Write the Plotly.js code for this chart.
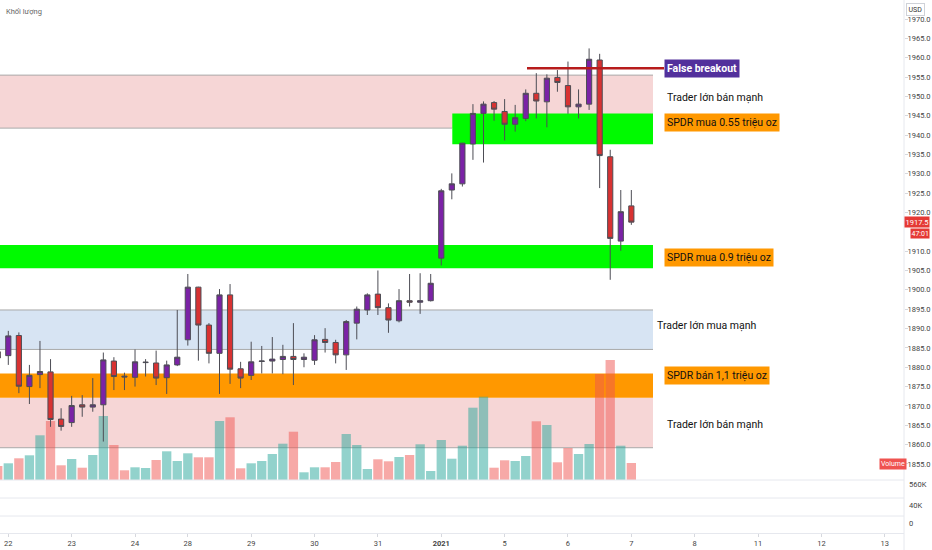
<!DOCTYPE html>
<html><head><meta charset="utf-8">
<script src="https://cdn.plot.ly/plotly-3.0.1.min.js"></script>
<style>html,body{margin:0;padding:0;background:#fff}#chart{width:932px;height:550px}</style>
</head><body><div id="chart"></div>
<script>
// ---- data (4h candles, index 0 = 22 Dec 00:00) ----
const candleIdx = [-1,0,1,2,3,4,5,6,7,8,9,10,11,12,13,14,15,16,17,18,19,20,21,22,23,24,25,26,27,28,29,30,31,32,33,34,35,36,37,38,39,40,41,42,43,44,45,46,47,48,49,50,51,52,53,54,55,56,57,58,59];
const openP  = [1884.0,1883.0,1888.2,1875.0,1878.1,1878.8,1866.6,1865.7,1870.3,1869.7,1870.3,1881.6,1877.7,1877.4,1881.2,1881.1,1877.3,1880.6,1887.1,1900.7,1890.9,1883.6,1898.7,1879.6,1877.9,1881.5,1881.6,1882.0,1882.8,1882.0,1881.8,1887.2,1886.4,1883.2,1891.4,1894.8,1898.9,1895.4,1892.0,1897.2,1896.8,1897.2,1908.2,1925.8,1927.4,1937.7,1945.6,1948.4,1946.1,1942.8,1944.3,1950.8,1948.6,1954.9,1952.8,1947.3,1948.0,1959.4,1934.4,1912.6,1921.7];
const highP  = [1885.5,1889.4,1889.0,1880.6,1886.8,1882.1,1869.4,1872.6,1872.8,1877.2,1883.8,1882.6,1878.6,1884.6,1882.1,1884.3,1881.7,1894.8,1904.1,1900.8,1891.4,1900.2,1901.5,1881.4,1886.6,1885.5,1887.8,1885.8,1891.4,1883.6,1888.3,1890.1,1887.1,1892.2,1895.7,1899.1,1905.0,1896.5,1900.2,1904.1,1904.3,1904.1,1926.1,1930.1,1938.0,1948.0,1948.7,1948.8,1949.3,1947.8,1951.8,1956.0,1955.7,1956.8,1959.0,1951.8,1962.4,1961.0,1936.2,1925.8,1925.8];
const lowP   = [1881.0,1880.6,1873.3,1870.5,1874.6,1864.6,1863.6,1864.6,1867.2,1868.5,1860.8,1874.1,1874.1,1875.0,1877.6,1875.4,1873.1,1880.3,1885.6,1881.7,1881.0,1873.1,1875.7,1874.6,1876.7,1878.4,1878.4,1878.2,1875.4,1880.0,1880.6,1883.8,1881.0,1879.3,1887.2,1893.5,1893.5,1888.9,1891.6,1895.7,1893.8,1897.0,1906.3,1923.4,1926.7,1933.6,1932.9,1943.7,1938.6,1940.9,1943.6,1944.3,1942.0,1951.2,1945.5,1944.3,1946.5,1926.3,1902.6,1910.1,1916.8];
const closeP = [1882.4,1888.1,1875.1,1877.9,1878.9,1866.5,1864.7,1870.1,1869.7,1870.3,1881.9,1877.6,1877.5,1881.4,1881.3,1877.2,1880.6,1882.6,1900.7,1890.9,1883.6,1898.7,1879.5,1877.2,1881.4,1881.6,1882.1,1882.8,1882.0,1882.6,1887.1,1886.4,1883.2,1891.8,1895.0,1898.7,1895.4,1892.2,1897.2,1896.8,1897.2,1901.7,1925.6,1927.4,1937.9,1945.6,1948.0,1946.7,1942.8,1944.5,1950.8,1948.8,1954.7,1953.6,1947.3,1948.0,1959.6,1934.7,1913.3,1920.2,1917.5];
const volume = [14,16.7,21.7,24.7,44.7,59,14.7,21,12.3,25,64,35,9.7,12.7,12,20,28.7,19,26.7,22.7,22.7,59,62.7,11.7,16.7,19,26,36.3,48.3,7.7,12.7,12.7,18,46,35,11,20.7,18.7,23,25,35.7,9,40,21.3,34.3,72.3,83.3,12.3,19.7,19,24,58.7,55,17.7,32,26,36,106,120,34.3,17];
const tickIdx  = [0,6,12,17,23,29,35,41,47,53,59,65,71,77,83];
const tickText = ['22','23','24','28','29','30','31','<b>2021</b>','5','6','7','8','11','12','13'];
// price-scale ticks shown (1915.0 is hidden behind the last-price labels)
const priceTicks = [1855,1860,1865,1870,1875,1880,1885,1890,1895,1900,1905,1910,1920,1925,1930,1935,1940,1945,1950,1955,1960,1965,1970];

// zones (price bounds)
const zoneSellTop   = [1941.8, 1955.5];
const zoneBuy055    = [1937.6, 1945.6];
const zoneBuy09     = [1905.6, 1911.6];
const zoneBuyBig    = [1884.6, 1894.8];
const zoneSell11    = [1872.1, 1878.4];
const zoneSellLow   = [1859.2, 1872.1];
const falseBreakout = 1957.3;

// ---- layout helpers ----
const W = 904, H = 533;
const px = x => x / W;
const py = y => 1 - y / H;
const kx = x => (x - 8.3) / 10.56;
const zoneEnd = kx(653);

const volColors = closeP.map((c, i) => c >= openP[i] ? 'rgba(38,166,154,0.5)' : 'rgba(239,83,80,0.5)');

const traces = [
  {type:'bar', x:candleIdx, y:volume, width:0.88, marker:{color:volColors, line:{width:0}},
   xaxis:'x', yaxis:'y', hoverinfo:'skip'},
  {type:'candlestick', x:candleIdx, open:openP, high:highP, low:lowP, close:closeP,
   xaxis:'x', yaxis:'y2', whiskerwidth:0,
   increasing:{fillcolor:'#7b22a6', line:{color:'#4d4d55', width:1}},
   decreasing:{fillcolor:'#d83232', line:{color:'#4d4d55', width:1}},
   hoverinfo:'skip'}
];

function rect(x0, x1, b, fill) {
  return {type:'rect', xref:'x', yref:'y2', x0:x0, x1:x1, y0:b[0], y1:b[1], fillcolor:fill, line:{width:0}, layer:'below'};
}
function hline(x0, x1, yv, color, w) {
  return {type:'line', xref:'x', yref:'y2', x0:x0, x1:x1, y0:yv, y1:yv, line:{color:color, width:w}, layer:'below'};
}
const gray = '#a9a9a9';
const shapes = [
  rect(-3, zoneEnd, zoneSellTop, 'rgb(246,214,214)'),
  hline(-3, zoneEnd, zoneSellTop[1], gray, 1),
  hline(-3, kx(452.3), zoneSellTop[0], gray, 1),
  rect(kx(452.3), zoneEnd, zoneBuy055, 'rgb(0,250,0)'),
  rect(-3, zoneEnd, zoneBuy09, 'rgb(0,250,0)'),
  rect(-3, zoneEnd, zoneBuyBig, 'rgb(215,228,243)'),
  hline(-3, zoneEnd, zoneBuyBig[0], gray, 1),
  hline(-3, zoneEnd, zoneBuyBig[1], gray, 1),
  rect(-3, zoneEnd, zoneSellLow, 'rgb(246,214,214)'),
  hline(-3, zoneEnd, zoneSellLow[0], gray, 1),
  rect(-3, zoneEnd, zoneSell11, '#ff9800'),
  {type:'line', xref:'x', yref:'y2', x0:kx(527), x1:kx(664), y0:falseBreakout, y1:falseBreakout, line:{color:'#b71c1c', width:2.5}},
  // pane separators / axis frame
  {type:'line', xref:'paper', yref:'paper', x0:0, x1:1, y0:py(480), y1:py(480), line:{color:'#e6e8ee', width:1}},
  {type:'line', xref:'paper', yref:'paper', x0:0, x1:1, y0:py(498), y1:py(498), line:{color:'#e6e8ee', width:1}},
  {type:'line', xref:'paper', yref:'paper', x0:0, x1:1, y0:py(516), y1:py(516), line:{color:'#e6e8ee', width:1}},
  {type:'line', xref:'paper', yref:'paper', x0:1, x1:1, y0:py(550), y1:1, line:{color:'#e6e8ee', width:1}}
];

const lf = 'Roboto, Liberation Sans, sans-serif';
function lab(text, x, y, opts) {
  return Object.assign({xref:'paper', yref:'paper', x:px(x), y:py(y), text:text, showarrow:false,
    xanchor:'left', yanchor:'middle', font:{family:lf, size:10.5, color:'#111'}}, opts || {});
}
const annotations = [
  lab('Khối lượng', 4, 11, {font:{family:lf, size:7.5, color:'#666'}}),
  lab('<b>False breakout</b>', 664, 68.5, {bgcolor:'#52309c', borderpad:2, font:{family:lf, size:10.5, color:'#fff'}}),
  lab('Trader lớn bán mạnh', 665, 98),
  lab('SPDR mua 0.55 triệu oz', 664, 122, {bgcolor:'#ff9800', borderpad:2}),
  lab('SPDR mua 0.9 triệu oz', 664, 257, {bgcolor:'#ff9800', borderpad:2}),
  lab('Trader lớn mua mạnh', 655, 325),
  lab('SPDR bán 1,1 triệu oz', 664, 375.5, {bgcolor:'#ff9800', borderpad:2}),
  lab('Trader lớn bán mạnh', 665, 424),
  lab('USD', 906, 10, {bgcolor:'#fff', bordercolor:'#cfd2d8', borderwidth:1, borderpad:1.5, font:{family:lf, size:7, color:'#333'}}),
  lab('1917.5', 904, 221.5, {bgcolor:'#e53935', borderpad:0.5, font:{family:lf, size:7.5, color:'#fff'}}),
  lab('47:01', 910, 233.5, {bgcolor:'#e53935', borderpad:0.5, font:{family:lf, size:7, color:'#fff'}}),
  lab('Volume', 879, 463.5, {bgcolor:'#ef5350', borderpad:1, font:{family:lf, size:7, color:'#fff'}}),
  lab('560K', 907, 484, {font:{family:lf, size:7.5, color:'#444'}}),
  lab('40K', 907, 505, {font:{family:lf, size:7.5, color:'#444'}}),
  lab('0', 907, 523, {font:{family:lf, size:7.5, color:'#444'}})
];

const layout = {
  width:932, height:550,
  margin:{l:0, r:28, t:0, b:17, pad:0},
  paper_bgcolor:'#fff', plot_bgcolor:'#fff',
  showlegend:false, hovermode:false,
  xaxis:{range:[kx(0), kx(904)], anchor:'free', position:0, showgrid:false, zeroline:false,
         rangeslider:{visible:false}, tickmode:'array', tickvals:tickIdx, ticktext:tickText,
         ticks:'outside', ticklen:3, tickcolor:'#d6d8de', showline:true, linecolor:'#e6e8ee',
         tickfont:{family:lf, size:7.5, color:'#444'}},
  yaxis:{domain:[py(480), 1], range:[0, 480], visible:false, showgrid:false, zeroline:false, fixedrange:true},
  yaxis2:{overlaying:'y', side:'right', anchor:'x', range:[1850.86, 1974.91],
          tickmode:'array', tickvals:priceTicks, ticktext:priceTicks.map(v => v.toFixed(1)),
          showgrid:false, zeroline:false, ticks:'outside', ticklen:3, tickcolor:'#d6d8de',
          ticklabelstandoff:-2, showline:false, tickfont:{family:lf, size:7.5, color:'#444'}},
  shapes:shapes, annotations:annotations
};

Plotly.newPlot('chart', traces, layout, {staticPlot:true, displayModeBar:false});
</script></body></html>
